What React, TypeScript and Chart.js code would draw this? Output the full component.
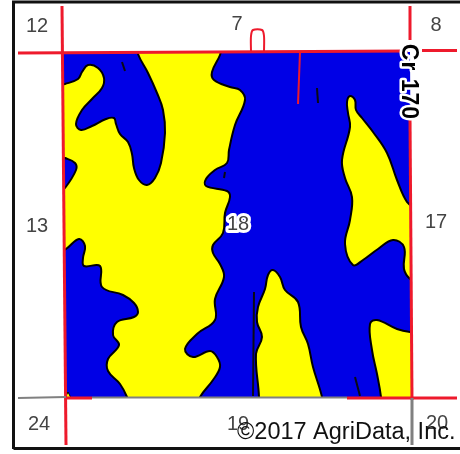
import React, { useEffect, useRef } from "react";
import { Chart, registerables } from "chart.js";

Chart.register(...registerables);

type P = [number, number];

const fieldBlue: P[] = [[58, 48], [416, 48], [416, 402], [58, 402]];

const yellowWest: P[] = [
  [138, 46], [138, 54], [148, 73], [157, 93], [163, 110], [165, 133], [161, 163], [155, 178], [147, 185], [139, 180], [134, 168],
  [132, 154], [128, 142], [120, 134], [116, 124], [114, 118], [106, 119], [92, 126], [81, 130], [76, 124], [82, 110], [92, 99], [102, 88], [104, 78],
  [98, 68], [88, 65], [82, 72], [78, 79], [65, 84], [56, 86], [56, 156], [65, 158], [75, 163], [76, 170], [65, 188],
  [56, 196], [56, 254], [66, 249], [79, 239], [85, 246], [83, 258], [84, 266], [100, 266], [102, 287], [123, 295],
  [134, 303], [138, 312], [134, 317], [117, 322], [113, 335], [119, 345], [108, 359], [108, 371], [120, 384], [127, 397],
  [129, 406], [198, 406], [200, 397], [213, 380], [220, 367], [217, 357], [210, 351], [193, 357], [185, 349], [197, 334], [215, 320],
  [215, 299], [224, 277], [220, 264], [213, 253], [213, 245], [223, 233], [225, 213], [230, 197], [227, 191],
  [206, 186], [206, 179], [215, 170], [227, 163], [229, 150], [235, 125], [245, 100], [240, 90], [230, 87],
  [214, 80], [212, 72], [220, 55], [222, 46],
];

const yellowEast: P[] = [
  [418, 240], [418, 212], [407, 202], [397, 180], [387, 153], [373, 132], [362, 118], [356, 110], [355, 100], [350, 96], [347, 102], [348, 113], [350, 127], [342, 160], [345, 178],
  [352, 197], [350, 220], [345, 244], [353, 265], [363, 260], [378, 249], [393, 240], [404, 247], [404, 269], [410, 279], [418, 282], [418, 240],
];

const yellowCentre: P[] = [
  [290, 406], [322, 406], [322, 397], [313, 367], [308, 344], [301, 327], [298, 302], [285, 290], [280, 277], [273, 270], [268, 275], [265, 289], [258, 307], [257, 322],
  [262, 337], [256, 354], [259, 397], [258, 406], [290, 406],
];

const yellowSouthEast: P[] = [
  [420, 360], [420, 332], [410, 332], [397, 329], [377, 320], [370, 324], [372, 350], [377, 374], [381, 397], [381, 406], [420, 406], [420, 360],
];

const yellowCorner: P[] = [[65, 398], [68, 392], [71, 398]];

const blackStrokes: P[][] = [
  [[254, 292], [253, 396]],
  [[355, 377], [360, 396]],
  [[122, 62], [125, 71]],
  [[317, 88], [318, 103]],
  [[225, 172], [224, 178]],
];

const frameMask: P[] = [
  [0, 0], [460, 0], [460, 454], [0, 454], [0, 0], [63, 52], [66, 398], [412, 398], [410, 52], [63, 52], [0, 0],
];

const redLines: P[][] = [
  [[62, 6], [66, 445]],
  [[18, 53], [408, 51]],
  [[410, 6], [410, 40]],
  [[410, 118], [412, 400]],
  [[422, 50.5], [457, 50.5]],
  [[66, 398], [92, 398]],
  [[347, 398], [457, 398]],
];

const thinRedLines: P[][] = [
  [[300, 52], [298, 104]],
  [[251, 52], [251, 36], [253, 30], [262, 30], [264, 36], [264, 52]],
];

const greyLines: P[][] = [
  [[18, 398], [66, 397]],
  [[92, 397.5], [347, 397.5]],
  [[412, 398], [412, 445]],
];

const frameLines: P[][] = [
  [[13.5, 449], [13.5, 2], [460, 2]],
  [[13.5, 448.5], [460, 448.5]],
];

const sectionNames = ["12", "7", "8", "13", "17", "24", "19", "20"];
const sectionX = [37, 237, 436, 37, 436, 39, 238, 437];
const sectionY = [26, 24, 25, 226, 222, 424, 424, 423];

const BLUE = "#0000e6";
const YELLOW = "#ffff00";
const RED = "#ee1a2c";

const toXY = (pts: P[]) => pts.map(([x, y]) => ({ x, y }));

const shape = (pts: P[], fill: string, stroke: string, width: number, tension: number) => ({
  data: toXY(pts),
  fill: "shape" as const,
  backgroundColor: fill,
  borderColor: stroke,
  borderWidth: width,
  tension,
  pointRadius: 0,
  showLine: true,
  spanGaps: true,
});

const line = (pts: P[], color: string, width: number, tension = 0) => ({
  data: toXY(pts),
  fill: false,
  borderColor: color,
  borderWidth: width,
  tension,
  pointRadius: 0,
  showLine: true,
});

const textPlugin = {
  id: "mapText",
  afterDatasetsDraw(chart: any) {
    const { ctx, scales } = chart;
    const px = (x: number) => scales.x.getPixelForValue(x);
    const py = (y: number) => scales.y.getPixelForValue(y);
    ctx.save();
    ctx.textAlign = "center";
    ctx.textBaseline = "middle";
    ctx.font = '20px "Liberation Sans"';
    ctx.fillStyle = "#444444";
    sectionNames.forEach((t, i) => ctx.fillText(t, px(sectionX[i]), py(sectionY[i])));

    ctx.lineJoin = "round";
    ctx.font = '20px "Liberation Sans"';
    ctx.strokeStyle = "#ffffff";
    ctx.lineWidth = 6;
    ctx.strokeText("18", px(238), py(224));
    ctx.fillStyle = "#444444";
    ctx.fillText("18", px(238), py(224));

    ctx.save();
    ctx.translate(px(408), py(82));
    ctx.rotate(Math.PI / 2);
    ctx.font = 'bold 23px "Liberation Sans"';
    ctx.letterSpacing = "1px";
    ctx.lineWidth = 5;
    ctx.strokeText("Cr 170", 0, 0);
    ctx.fillStyle = "#000000";
    ctx.fillText("Cr 170", 0, 0);
    ctx.restore();

    ctx.textAlign = "left";
    ctx.font = '23.5px "Liberation Sans"';
    ctx.fillStyle = "#111111";
    ctx.fillText("©2017 AgriData, Inc.", px(237), py(433));
    ctx.restore();
  },
};

export default function App() {
  const ref = useRef<HTMLCanvasElement>(null);
  useEffect(() => {
    if (!ref.current) return;
    const chart = new Chart(ref.current, {
      type: "scatter",
      data: {
        datasets: [
          ...frameLines.map((l) => line(l, "#111111", 3)),
          ...greyLines.map((l, i) => line(l, "#808080", i === 2 ? 3 : 2)),
          ...thinRedLines.map((l, i) => line(l, RED, 2, i === 1 ? 0.3 : 0)),
          ...redLines.map((l) => line(l, RED, 3)),
          shape(frameMask, "#ffffff", "rgba(0,0,0,0)", 0, 0),
          ...blackStrokes.map((l) => line(l, "#0a0a14", 2)),
          shape(yellowCorner, YELLOW, "#000000", 1, 0),
          shape(yellowSouthEast, YELLOW, "#000000", 2, 0.4),
          shape(yellowCentre, YELLOW, "#000000", 2, 0.4),
          shape(yellowEast, YELLOW, "#000000", 2, 0.4),
          shape(yellowWest, YELLOW, "#000000", 2, 0.4),
          shape(fieldBlue, BLUE, BLUE, 0, 0),
        ] as any,
      },
      options: {
        animation: false,
        responsive: false,
        devicePixelRatio: 1,
        layout: { padding: 0 },
        plugins: { legend: { display: false }, tooltip: { enabled: false } },
        scales: {
          x: { type: "linear", min: 0, max: 460, display: false },
          y: { type: "linear", min: 0, max: 454, reverse: true, display: false },
        },
      },
      plugins: [textPlugin],
    });
    return () => chart.destroy();
  }, []);
  return (
    <canvas
      ref={ref}
      width={460}
      height={454}
      style={{ position: "fixed", left: 0, top: 0, display: "block", background: "#ffffff" }}
    />
  );
}
